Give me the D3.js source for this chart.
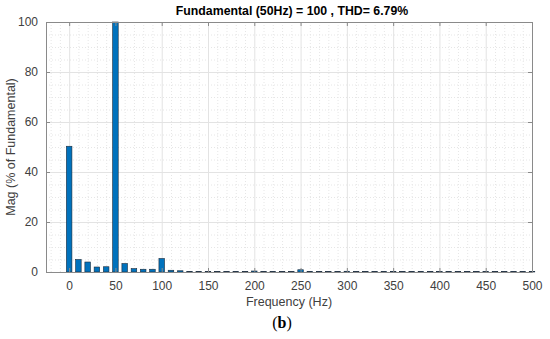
<!DOCTYPE html>
<html><head><meta charset="utf-8">
<script src="https://cdn.jsdelivr.net/npm/d3@7"></script>
<style>body{margin:0;background:#fff;} text{font-family:"Liberation Sans",Arial,sans-serif;}</style>
</head><body>
<svg id="c" width="550" height="339"></svg>
<script>
const freqs = [0,10,20,30,40,50,60,70,80,90,100,110,120,130,140,150,160,170,180,190,200,210,220,230,240,250,260,270,280,290,300,310,320,330,340,350,360,370,380,390,400,410,420,430,440,450,460,470,480,490,500];
const mags  = [50.3,5.0,4.0,2.0,2.1,100,3.4,1.35,1.1,1.1,5.4,0.7,0.5,0.2,0.15,0.15,0.15,0.15,0.15,0.15,0.4,0.15,0.15,0.15,0.15,0.9,0.2,0.15,0.15,0.15,0.3,0.15,0.15,0.15,0.15,0.25,0.15,0.15,0.15,0.15,0.2,0.15,0.15,0.15,0.15,0.2,0.15,0.15,0.15,0.15,0.2];
const xTicks = [0,50,100,150,200,250,300,350,400,450,500];
const yTicks = [0,20,40,60,80,100];
const titleText = "Fundamental (50Hz) = 100 , THD= 6.79%";
const xLabel = "Frequency (Hz)";
const yLabel = "Mag (% of Fundamental)";

const svg = d3.select("#c");
const L=46, R=532, T=22, B=272;
const x = d3.scaleLinear().domain([-25,500]).range([L,R]);
const y = d3.scaleLinear().domain([0,100]).range([B,T]);

const xMinor = d3.range(-20,501,10).filter(v=>v%50!==0);
const yMinor = d3.range(0,101,5).filter(v=>v%20!==0);
const g = svg.append("g");
g.selectAll(".xm").data(xMinor).enter().append("line")
 .attr("x1",d=>x(d)+0.5).attr("x2",d=>x(d)+0.5).attr("y1",T).attr("y2",B)
 .attr("stroke","#e6e6e6").attr("stroke-dasharray","1,2");
g.selectAll(".ym").data(yMinor).enter().append("line")
 .attr("y1",d=>y(d)+0.5).attr("y2",d=>y(d)+0.5).attr("x1",L).attr("x2",R)
 .attr("stroke","#e6e6e6").attr("stroke-dasharray","1,2");
g.selectAll(".xg").data(xTicks).enter().append("line")
 .attr("x1",d=>x(d)+0.5).attr("x2",d=>x(d)+0.5).attr("y1",T).attr("y2",B)
 .attr("stroke","#e3e3e3");
g.selectAll(".yg").data(yTicks).enter().append("line")
 .attr("y1",d=>y(d)+0.5).attr("y2",d=>y(d)+0.5).attr("x1",L).attr("x2",R)
 .attr("stroke","#e3e3e3");

const bw = x(6)-x(0);
svg.append("g").selectAll("rect").data(freqs).enter().append("rect")
 .attr("x",(d)=>x(d)-bw/2).attr("width",bw)
 .attr("y",(d,i)=>y(mags[i])).attr("height",(d,i)=>B-y(mags[i]))
 .attr("fill","#0072BD").attr("stroke","#1c2a3a").attr("stroke-width",0.6);

const axCol="#8a8a8a", txtCol="#404040";
const xa = svg.append("g").attr("transform",`translate(0,${B})`)
 .call(d3.axisBottom(x).tickValues(xTicks).tickSizeInner(-4).tickSizeOuter(0).tickPadding(9));
const xt = svg.append("g").attr("transform",`translate(0,${T})`)
 .call(d3.axisTop(x).tickValues(xTicks).tickSizeInner(-4).tickSizeOuter(0).tickFormat(""));
const ya = svg.append("g").attr("transform",`translate(${L},0)`)
 .call(d3.axisLeft(y).tickValues(yTicks).tickSizeInner(-4).tickSizeOuter(0).tickPadding(8));
const yr = svg.append("g").attr("transform",`translate(${R},0)`)
 .call(d3.axisRight(y).tickValues(yTicks).tickSizeInner(-4).tickSizeOuter(0).tickFormat(""));
[xa,xt,ya,yr].forEach(a=>{
  a.select(".domain").attr("stroke",axCol);
  a.selectAll(".tick line").attr("stroke",axCol);
  a.selectAll("text").attr("fill",txtCol).style("font-size","12px").style("font-family","'Liberation Sans',Arial,sans-serif");
});

svg.append("text").attr("x",(L+R)/2+3).attr("y",15).attr("text-anchor","middle")
 .style("font-size","12.3px").style("font-weight","bold").attr("fill","#000").text(titleText);
svg.append("text").attr("x",(L+R)/2).attr("y",306).attr("text-anchor","middle")
 .style("font-size","12.5px").attr("fill",txtCol).text(xLabel);
svg.append("text").attr("transform",`translate(15,${(T+B)/2}) rotate(-90)`).attr("text-anchor","middle")
 .style("font-size","12.5px").attr("fill",txtCol).text(yLabel);
const cap = svg.append("text").attr("x",282).attr("y",328).attr("text-anchor","middle")
 .style("font-size","16px").style("font-family","'Liberation Serif','Times New Roman',serif")
 .attr("fill","#000");
cap.append("tspan").text("(");
cap.append("tspan").style("font-weight","bold").text("b");
cap.append("tspan").text(")");
</script>
</body></html>
